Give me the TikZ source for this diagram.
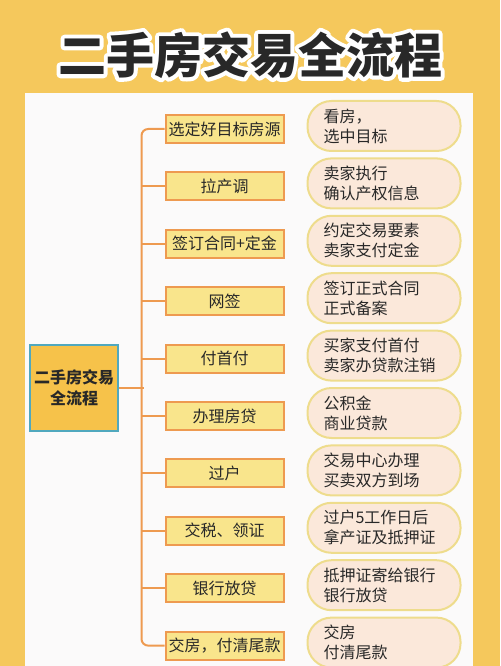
\documentclass[tikz,border=0pt]{standalone}
\usepackage{fontspec}
\setmainfont{Noto Sans CJK SC}
\usepackage{tikz}

\definecolor{pagebg}{RGB}{245,200,92}
\definecolor{panelbg}{RGB}{251,250,250}
\definecolor{linkclr}{RGB}{238,154,80}
\definecolor{stepfill}{RGB}{249,229,140}
\definecolor{pillfill}{RGB}{251,232,218}
\definecolor{pillline}{RGB}{238,220,140}
\definecolor{hubfill}{RGB}{246,194,74}
\definecolor{hubline}{RGB}{80,168,190}
\definecolor{inkclr}{RGB}{40,40,40}

% stroked (outline) text for the white rim of the title
\newcommand{\rimtext}[1]{\special{pdf:literal direct 2 Tr 6 w 1 j 1 J 1 1 1 RG 1 1 1 rg}#1\special{pdf:literal direct 0 Tr}}

\tikzset{
  stepbox/.style={draw=linkclr, line width=1.5pt, fill=stepfill, minimum width=88.5pt, minimum height=21pt, inner sep=0pt, font=\fontsize{12}{14}\selectfont, text=inkclr},
  notepill/.style={draw=pillline, line width=1.5pt, fill=pillfill, rounded corners=18pt, text width=90.75pt, inner xsep=12pt, minimum height=37.5pt, align=left, font=\fontsize{12}{15}\selectfont, text=inkclr},
  hubbox/.style={draw=hubline, line width=1.5pt, fill=hubfill, minimum width=64.5pt, minimum height=65pt, align=center, font=\bfseries\fontsize{12}{16}\selectfont, text=inkclr},
  link/.style={draw=linkclr, line width=1.5pt},
  titletext/.style={font=\bfseries\fontsize{36}{40}\selectfont, inner sep=0pt}
}

\begin{document}
\begin{tikzpicture}[x=0.75pt,y=0.75pt,yscale=-1,xscale=1]
        \useasboundingbox (0,0) rectangle (500,666);

        %Shape: Rectangle [page]
        \fill [pagebg] (0,0) rectangle (500,666);
        %Shape: Rectangle [panel]
        \fill [panelbg] (25,93) rectangle (473,666);

        % Text Node: title, white rim drawn first
        \node (rim) [titletext, text=white] at (250,55) {\rimtext{二手房交易全流程}};
        \node (title) [titletext, text=inkclr] at (250,55) {二手房交易全流程};

        % Text Node: hub
        \node (hub) [hubbox] at (74,388) {二手房交易\\全流程};

        % Text Node: steps
        \node (s1) [stepbox] at (224.5,129) {选定好目标房源};
        \node (s2) [stepbox] at (224.5,186.4) {拉产调};
        \node (s3) [stepbox] at (224.5,243.8) {签订合同+定金};
        \node (s4) [stepbox] at (224.5,301.2) {网签};
        \node (s5) [stepbox] at (224.5,358.6) {付首付};
        \node (s6) [stepbox] at (224.5,416) {办理房贷};
        \node (s7) [stepbox] at (224.5,473.4) {过户};
        \node (s8) [stepbox] at (224.5,530.8) {交税、领证};
        \node (s9) [stepbox] at (224.5,588.2) {银行放贷};
        \node (s10) [stepbox] at (224.5,645.6) {交房，付清尾款};

        % Text Node: notes
        \node (d1) [notepill] at (384,126) {看房，\\选中目标};
        \node (d2) [notepill] at (384,183.4) {卖家执行\\确认产权信息};
        \node (d3) [notepill] at (384,240.8) {约定交易要素\\卖家支付定金};
        \node (d4) [notepill] at (384,298.2) {签订正式合同\\正式备案};
        \node (d5) [notepill] at (384,355.6) {买家支付首付\\卖家办贷款注销};
        \node (d6) [notepill] at (384,413) {公积金\\商业贷款};
        \node (d7) [notepill] at (384,470.4) {交易中心办理\\买卖双方到场};
        \node (d8) [notepill] at (384,527.8) {过户5工作日后\\拿产证及抵押证};
        \node (d9) [notepill] at (384,585.2) {抵押证寄给银行\\银行放贷};
        \node (d10) [notepill] at (384,642.6) {交房\\付清尾款};

        %Straight Lines: trunk
        \draw [link, rounded corners=5pt] (s1.west) -- ++(-23,0) |- (s10.west);
        \draw [link] (hub.east) -- ++(25,0);
        \foreach \k in {2,...,9}
          \draw [link] (s\k.west) -- ++(-23,0);

\end{tikzpicture}
\end{document}
